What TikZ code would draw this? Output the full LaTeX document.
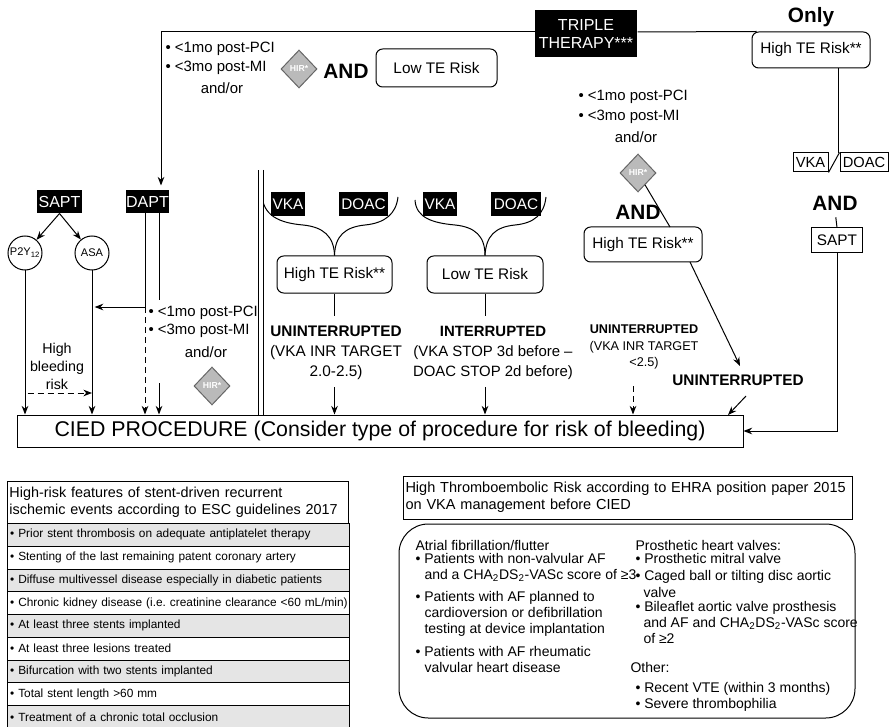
\documentclass[tikz,border=0pt]{standalone}
\usepackage{fontspec}
\setmainfont{Liberation Sans}
\usetikzlibrary{arrows.meta,shapes.geometric,calc}
\newcommand\fsz[2]{\fontsize{#1}{#2}\selectfont}
\begin{document}
\begin{tikzpicture}[x=0.75pt,y=-0.75pt,line width=0.75pt,
 >={Stealth[length=6.5pt,width=5pt]},
 every node/.style={inner sep=0pt},
 blk/.style={fill=black,text=white,inner sep=0pt,font=\fsz{11.5}{13}},
 wbx/.style={draw,fill=white,inner sep=0pt,font=\fsz{11}{13}},
 rbx/.style={draw,fill=white,rounded corners=5pt,inner sep=0pt,font=\fsz{11.5}{13}},
 hirs/.style={diamond,draw=black!60,fill=black!27,text=white,inner sep=0pt,minimum width=27pt,minimum height=28.5pt,font=\bfseries\fsz{6.5}{7}},
 txt/.style={font=\fsz{11.2}{14}},
 bigand/.style={font=\bfseries\fsz{15.6}{18}},
 crc/.style={circle,draw,minimum size=25.5pt,inner sep=0pt,font=\fsz{8.3}{10}},
 rowg/.style={draw,fill=black!10,anchor=north west,minimum width=256.5pt,minimum height=17.06pt,text width=252.5pt,align=left,inner xsep=2pt,font=\fsz{8.9}{10}},
 roww/.style={rowg,fill=white},
 lst/.style={anchor=base west,font=\fsz{10.5}{12}},
 dsh/.style={dash pattern=on 4.5pt off 3pt},
]
\useasboundingbox (0,0) rectangle (892,727);

% ---------- top ----------
\coordinate (tl) at (161,32);
\node[blk,minimum width=76.5pt,minimum height=35pt,align=center,font=\fsz{12}{13.5}] (triple) at (586,33.5) {TRIPLE\\THERAPY***};
\node[font=\bfseries\fsz{15.6}{18}] (only) at (811,17) {Only};
\node[rbx,minimum width=88.5pt,minimum height=27pt] (hte1) at (811,50) {High TE Risk**};
\node[txt,anchor=west] (b1a) at (165,49) {• <1mo post-PCI};
\node[txt,anchor=west] (b1b) at (165,68) {• <3mo post-MI};
\node[txt] (b1c) at (222,88) {and/or};
\node[hirs] (hir1) at (299,69) {HIR*};
\node[bigand] (and1) at (346,71) {AND};
\node[rbx,minimum width=90.75pt,minimum height=28.5pt] (lte1) at (436.5,68) {Low TE Risk};

% ---------- right column ----------
\node[wbx,minimum width=26.25pt,minimum height=14.25pt] (vka3) at (810.5,162.5) {VKA};
\node[wbx,minimum width=36pt,minimum height=14.25pt] (doac3) at (864,162.5) {DOAC};
\coordinate (vd) at (838,153);
\node[bigand] (and3) at (835,203) {AND};
\node[wbx,minimum width=38.25pt,minimum height=18.75pt,font=\fsz{11.5}{13}] (sapt3) at (837,240.5) {SAPT};

% ---------- middle right ----------
\node[txt,anchor=west] (b2a) at (578,97) {• <1mo post-PCI};
\node[txt,anchor=west] (b2b) at (578,117) {• <3mo post-MI};
\node[txt] (b2c) at (636,137) {and/or};
\node[hirs] (hir2) at (638,173) {HIR*};
\node[bigand] (and2) at (638,212) {AND};
\node[rbx,minimum width=88.5pt,minimum height=26.25pt] (hte2) at (643,244.5) {High TE Risk**};
\coordinate (h2t) at (670,227);
\coordinate (h2b) at (690,262);
\node[font=\bfseries\fsz{11.5}{13}] (un2) at (738,380) {UNINTERRUPTED};
\coordinate (u2top) at (740,366);
\coordinate (u2a) at (746,396);
\coordinate (u2b) at (728,415);
\node[align=center,font=\fsz{9.5}{12.5}] (ui3) at (644,347) {\textbf{UNINTERRUPTED}\\(VKA INR TARGET\\<2.5)};
\coordinate (dsh1) at (633,386);

% ---------- middle ----------
\coordinate (dl) at (261,170);
\node[blk,minimum width=25.5pt,minimum height=18pt] (vka1) at (288,204) {VKA};
\node[blk,minimum width=36.75pt,minimum height=18pt] (doac1) at (363.5,204) {DOAC};
\node[blk,minimum width=25.5pt,minimum height=18pt] (vka2) at (440,204) {VKA};
\node[blk,minimum width=37.5pt,minimum height=18pt] (doac2) at (516,204) {DOAC};
\node[rbx,minimum width=86.25pt,minimum height=27.75pt] (hte4) at (334.5,274.5) {High TE Risk**};
\node[rbx,minimum width=87pt,minimum height=27.75pt] (lte2) at (485,274.5) {Low TE Risk};
\node[align=center,font=\fsz{11.5}{15}] (ui1) at (336,353) {\textbf{UNINTERRUPTED}\\(VKA INR TARGET\\2.0-2.5)};
\node[align=center,font=\fsz{11.2}{15}] (ui2) at (493,353) {\textbf{INTERRUPTED}\\(VKA STOP 3d before –\\DOAC STOP 2d before)};

% ---------- left ----------
\node[blk,minimum width=33.75pt,minimum height=17.25pt,font=\fsz{12}{13}] (sapt1) at (59.5,201.5) {SAPT};
\node[blk,minimum width=32.25pt,minimum height=17.25pt,font=\fsz{12}{13}] (dapt1) at (147.5,201.5) {DAPT};
\node[crc] (p2y) at (25,253) {P2Y\textsubscript{12}};
\node[crc] (asa) at (92,253) {ASA};
\coordinate (j1) at (145,307);
\coordinate (d1) at (145,213);
\coordinate (d2) at (159,213);
\coordinate (d2e) at (159,300);
\coordinate (d2s) at (159,383);
\node[txt,anchor=west] (b3a) at (148,313) {• <1mo post-PCI};
\node[txt,anchor=west] (b3b) at (148,331) {• <3mo post-MI};
\node[txt] (b3c) at (206,352) {and/or};
\node[hirs] (hir3) at (212,386) {HIR*};
\node[align=center,font=\fsz{10.7}{13.5}] (hbr) at (57,366) {High\\bleeding\\risk};
\coordinate (hb) at (57,393);

\node[draw,fill=white,minimum width=544.5pt,minimum height=24pt,font=\fsz{16}{18}] (cied) at (380,431) {CIED PROCEDURE (Consider type of procedure for risk of bleeding)};

% ---------- connectors ----------
\draw (tl) -- (triple.west |- tl);
\draw (triple.east |- tl) -- ($(hte1.north west)+(5,0)$);
\draw[->,shorten >=3pt] (tl) -- (tl |- dapt1.north);
\draw (hte1.south -| vd) -- (vd);
\draw (vka3.south east) -- (doac3.north west);
\draw[shorten <=5pt] (and3.south) -- (sapt3.north);
\draw[->] (sapt3.south) |- (cied.east);
\draw (hir2) -- (h2t);
\draw[->] (h2b) -- (u2top);
\draw[->] (u2a) -- (u2b);
\draw[dsh,->] (dsh1) -- (dsh1 |- cied.north);

\draw (262,193) .. controls (262,216) and (280,223) .. (303,225) .. controls (323,227) and (334,236) .. (hte4.north);
\draw (hte4.north) .. controls (335,236) and (345,227) .. (365,225) .. controls (385,223) and (396,214) .. (398,197);
\draw (415,200) .. controls (416,218) and (433,223) .. (455,225) .. controls (475,227) and (485,236) .. (lte2.north);
\draw (lte2.north) .. controls (486,236) and (495,227) .. (515,225) .. controls (535,223) and (544,214) .. (546,197);

\draw[double,double distance=2.6pt,line width=0.75pt] (dl) -- (dl |- cied.north);
\draw[shorten >=7.5pt] (hte4.south) -- (hte4.south |- ui1.north);
\draw[->,shorten <=5pt] (hte4.south |- ui1.south) -- (hte4.south |- cied.north);
\draw[shorten >=7.5pt] (lte2.south) -- (lte2.south |- ui2.north);
\draw[->,shorten <=5pt] (lte2.south |- ui2.south) -- (lte2.south |- cied.north);

\draw[->] (sapt1.south) -- (p2y);
\draw[->] (sapt1.south) -- (asa);
\draw[->] (p2y.south) -- (p2y.south |- cied.north);
\draw[->] (asa.south) -- (asa.south |- cied.north);
\draw (d1) -- (j1);
\draw[->,shorten >=2pt] (j1) -- (asa.south |- j1);
\draw[dsh,->] (j1) -- (j1 |- cied.north);
\draw (d2) -- (d2e);
\draw[->] (d2s) -- (d2s |- cied.north);
\draw[dsh,->,shorten <=2pt] (hb -| p2y) -- (hb -| asa);

% ---------- table ----------
\node[draw,fill=white,anchor=north west,minimum width=255.75pt,minimum height=31.5pt,text width=252.75pt,align=left,inner xsep=1.5pt,font=\fsz{10.8}{12.5}] (tt) at (7,481) {High-risk features of stent-driven recurrent\\ischemic events according to ESC guidelines 2017};
\node[rowg] (r1) at (7,523) {• Prior stent thrombosis on adequate antiplatelet therapy};
\node[roww] (r2) at (7,545.75) {• Stenting of the last remaining patent coronary artery};
\node[rowg] (r3) at (7,568.5) {• Diffuse multivessel disease especially in diabetic patients};
\node[roww] (r4) at (7,591.25) {\mbox{• Chronic kidney disease (i.e.\ creatinine clearance <60 mL/min)}};
\node[rowg] (r5) at (7,614) {• At least three stents implanted};
\node[roww] (r6) at (7,636.75) {• At least three lesions treated};
\node[rowg] (r7) at (7,659.5) {• Bifurcation with two stents implanted};
\node[roww] (r8) at (7,682.25) {• Total stent length >60 mm};
\node[rowg] (r9) at (7,705) {• Treatment of a chronic total occlusion};

% ---------- thromboembolic box ----------
\node[draw,fill=white,minimum width=336.75pt,minimum height=32.25pt,text width=333pt,align=left,inner xsep=1.875pt,font=\fsz{10.9}{12.75}] (t2) at (627.5,497.5) {\mbox{High Thromboembolic Risk according to EHRA position paper 2015}\\on VKA management before CIED};
\node[draw,rounded corners=22pt,minimum width=342pt,minimum height=145.5pt] (thr) at (627,621) {};

\node[lst] (la1) at (415,550) {Atrial fibrillation/flutter};
\node[lst] (la2) at (415,563) {• Patients with non-valvular AF};
\node[lst] (la3) at (424,579) {and a CHA\textsubscript{2}DS\textsubscript{2}-VASc score of ≥3};
\node[lst] (la4) at (415,601) {• Patients with AF planned to};
\node[lst] (la5) at (424,617) {cardioversion or defibrillation};
\node[lst] (la6) at (424,633) {testing at device implantation};
\node[lst] (la7) at (415,656) {• Patients with AF rheumatic};
\node[lst] (la8) at (424,672) {valvular heart disease};

\node[lst] (ra1) at (635,550) {Prosthetic heart valves:};
\node[lst] (ra2) at (635,563) {• Prosthetic mitral valve};
\node[lst] (ra3) at (635,580) {• Caged ball or tilting disc aortic};
\node[lst] (ra4) at (643,597) {valve};
\node[lst] (ra5) at (635,611) {• Bileaflet aortic valve prosthesis};
\node[lst] (ra6) at (643,627) {and AF and CHA\textsubscript{2}DS\textsubscript{2}-VASc score};
\node[lst] (ra7) at (643,643) {of ≥2};
\node[lst] (ra8) at (630,672) {Other:};
\node[lst] (ra9) at (635,692) {• Recent VTE (within 3 months)};
\node[lst] (ra10) at (635,708) {• Severe thrombophilia};
\end{tikzpicture}
\end{document}
